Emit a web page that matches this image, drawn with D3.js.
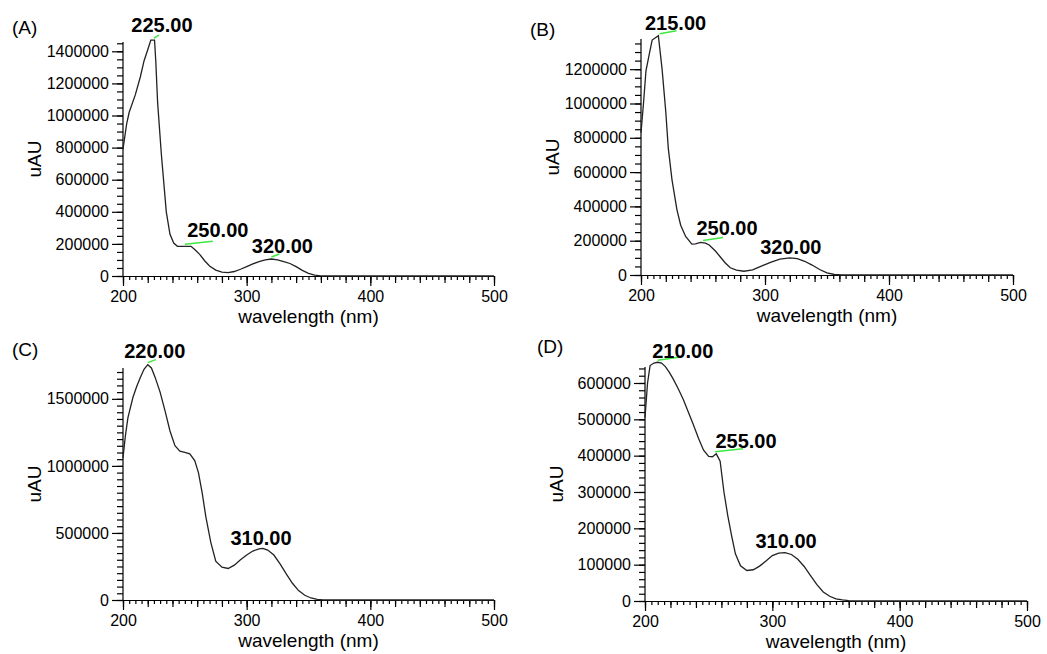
<!DOCTYPE html>
<html>
<head>
<meta charset="utf-8">
<script src="https://cdn.jsdelivr.net/npm/d3@7"></script>
<style>
  body { margin: 0; background: #fff; }
  svg { display: block; font-family: Arial, "Liberation Sans", sans-serif; }
</style>
</head>
<body>
<svg id="chart" width="1047" height="654"></svg>
<script>
// ---- spectra (wavelength nm / uAU) ----
const wlA  = [200, 203, 205, 210, 214, 217, 220, 222.5, 225.5, 226.5, 228, 231, 235, 238, 241, 244, 250, 255, 258, 262, 266, 270, 275, 280, 285, 290, 295, 300, 305, 310, 315, 320, 325, 330, 335, 340, 345, 350, 355, 360, 370, 500];
const uauA = [790000, 950000, 1020000, 1130000, 1240000, 1340000, 1410000, 1470000, 1470000, 1340000, 1080000, 760000, 400000, 260000, 205000, 185000, 185000, 185000, 165000, 135000, 95000, 62000, 37000, 24000, 21000, 28000, 42000, 58000, 75000, 90000, 100000, 106000, 100000, 90000, 78000, 58000, 35000, 16000, 5000, 1000, 0, 0];

const wlB  = [200, 202, 204, 207, 209, 214, 217, 220, 222, 225, 229, 232, 236, 241, 244, 248, 252, 255, 260, 264, 268, 272, 277, 283, 290, 298, 305, 312, 320, 326, 332, 338, 344, 350, 356, 362, 500];
const uauB = [830000, 1000000, 1190000, 1300000, 1370000, 1395000, 1200000, 950000, 740000, 555000, 380000, 290000, 225000, 180000, 182000, 190000, 186000, 175000, 140000, 105000, 70000, 42000, 28000, 22000, 30000, 55000, 75000, 92000, 100000, 95000, 80000, 58000, 32000, 12000, 3000, 0, 0];

const wlC  = [200, 202, 204, 208, 211, 214, 217, 220, 223, 226, 230, 234, 238, 242, 246, 250, 254, 258, 261, 264, 267, 271, 275, 280, 285, 290, 295, 300, 305, 310, 313, 317, 322, 327, 332, 337, 342, 347, 352, 357, 362, 500];
const uauC = [1060000, 1230000, 1360000, 1510000, 1590000, 1660000, 1720000, 1755000, 1730000, 1660000, 1550000, 1410000, 1260000, 1150000, 1110000, 1100000, 1090000, 1040000, 950000, 800000, 620000, 430000, 290000, 245000, 235000, 260000, 300000, 335000, 365000, 382000, 385000, 372000, 335000, 270000, 195000, 125000, 70000, 35000, 15000, 5000, 0, 0];

const wlD  = [200, 202, 204, 207, 210, 213, 216, 219, 222, 226, 230, 234, 238, 242, 246, 250, 253, 256, 259, 262, 265, 268, 271, 275, 280, 285, 290, 295, 300, 305, 310, 315, 320, 325, 330, 335, 340, 345, 350, 355, 360, 365, 500];
const uauD = [505000, 600000, 648000, 655000, 657000, 655000, 645000, 630000, 612000, 585000, 555000, 520000, 485000, 448000, 415000, 398000, 397000, 405000, 385000, 300000, 235000, 180000, 130000, 97000, 84000, 86000, 96000, 110000, 125000, 132000, 133000, 128000, 115000, 95000, 70000, 45000, 25000, 13000, 6000, 3000, 1000, 0, 0];

// peak annotations: wavelength and apex value
const peakWlA = [225, 250, 320], peakValA = [1470000, 185000, 106000];
const peakWlB = [215, 250, 320], peakValB = [1395000, 190000, 100000];
const peakWlC = [220, 310],      peakValC = [1755000, 385000];
const peakWlD = [210, 255, 310], peakValD = [657000, 405000, 133000];

const xTicks = [200, 300, 400, 500];

// ---- layout (pixel boxes, label offsets) ----
const panels = [
  { tag: "(A)", tagX: 12, tagY: 34, wl: wlA, v: uauA, pw: peakWlA, pv: peakValA,
    left: 123, right: 494, top: 42, bottom: 276, yMax: 1458000, major: 200000, minor: 50000,
    labelOff: [[8, -8], [33, -9], [11, -6]], greenLen: [5, 28, 8], titleX: 41 },
  { tag: "(B)", tagX: 530, tagY: 36, wl: wlB, v: uauB, pw: peakWlB, pv: peakValB,
    left: 641, right: 1013, top: 39, bottom: 275, yMax: 1376000, major: 200000, minor: 50000,
    labelOff: [[16, -6], [24, -7], [1, -4]], greenLen: [17, 20, 0], titleX: 559 },
  { tag: "(C)", tagX: 12, tagY: 356, wl: wlC, v: uauC, pw: peakWlC, pv: peakValC,
    left: 123, right: 494, top: 368, bottom: 600, yMax: 1730000, major: 500000, minor: 50000,
    labelOff: [[7, -7], [2, -3]], greenLen: [8, 0], titleX: 41 },
  { tag: "(D)", tagX: 537, tagY: 353, wl: wlD, v: uauD, pw: peakWlD, pv: peakValD,
    left: 645, right: 1027, top: 367, bottom: 601, yMax: 644000, major: 100000, minor: 20000,
    labelOff: [[25, -4], [31, -6], [1, -5]], greenLen: [21, 28, 0], titleX: 563 }
];

const svg = d3.select("#chart");

panels.forEach(p => {
  const x = d3.scaleLinear().domain([200, 500]).range([p.left, p.right]);
  const y = d3.scaleLinear().domain([0, p.yMax]).range([p.bottom, p.top]);
  const g = svg.append("g");

  // y axis: minor then major
  const minorY = d3.range(0, p.yMax + 1, p.minor);
  const majorY = d3.range(0, p.yMax + 1, p.major);
  g.append("g")
    .attr("transform", `translate(${p.left},0)`)
    .call(d3.axisLeft(y).tickValues(minorY).tickSize(6).tickFormat("").tickSizeOuter(0))
    .call(a => a.select(".domain").remove());
  const ya = g.append("g")
    .attr("transform", `translate(${p.left},0)`)
    .call(d3.axisLeft(y).tickValues(majorY).tickSize(11).tickPadding(3).tickFormat(d3.format("d")).tickSizeOuter(0));
  ya.select(".domain").attr("d", `M0,${p.bottom}V${p.top}`);
  ya.selectAll("text").style("font-size", "16px").attr("fill", "#000");

  // x axis: minor (5), medium (20), major (100)
  g.append("g")
    .attr("transform", `translate(0,${p.bottom})`)
    .call(d3.axisBottom(x).tickValues(d3.range(200, 501, 5)).tickSize(4).tickFormat("").tickSizeOuter(0))
    .call(a => a.select(".domain").remove());
  g.append("g")
    .attr("transform", `translate(0,${p.bottom})`)
    .call(d3.axisBottom(x).tickValues(d3.range(200, 501, 20)).tickSize(7).tickFormat("").tickSizeOuter(0))
    .call(a => a.select(".domain").remove());
  const xa = g.append("g")
    .attr("transform", `translate(0,${p.bottom})`)
    .call(d3.axisBottom(x).tickValues(xTicks).tickSize(10).tickPadding(5).tickFormat(d3.format("d")).tickSizeOuter(0));
  xa.selectAll("text").style("font-size", "16px").attr("fill", "#000");

  g.selectAll(".domain, .tick line").attr("stroke", "#000").attr("stroke-width", 1.2);

  // axis titles
  g.append("text")
    .attr("x", (p.left + p.right) / 2)
    .attr("y", p.bottom + 47)
    .attr("text-anchor", "middle")
    .style("font-size", "19px")
    .text("wavelength (nm)");
  g.append("text")
    .attr("transform", `translate(${p.titleX},${(p.top + p.bottom) / 2}) rotate(-90)`)
    .attr("text-anchor", "middle")
    .style("font-size", "19px")
    .text("uAU");

  // panel tag
  g.append("text")
    .attr("x", p.tagX).attr("y", p.tagY)
    .style("font-size", "19px")
    .text(p.tag);

  // spectrum
  const pts = p.wl.map((w, i) => [w, p.v[i]]);
  g.append("path")
    .datum(pts)
    .attr("fill", "none")
    .attr("stroke", "#222")
    .attr("stroke-width", 1.3)
    .attr("d", d3.line().x(d => x(d[0])).y(d => y(d[1])));

  // peak markers + labels
  p.pw.forEach((w, i) => {
    const px = x(w), py = y(p.pv[i]);
    if (p.greenLen[i] > 0) {
      g.append("line")
        .attr("x1", px).attr("y1", py - 2)
        .attr("x2", px + p.greenLen[i]).attr("y2", py - 5)
        .attr("stroke", "#3ee83e").attr("stroke-width", 1.5);
    }
    g.append("text")
      .attr("x", px + p.labelOff[i][0])
      .attr("y", py + p.labelOff[i][1])
      .attr("text-anchor", "middle")
      .style("font-size", "20px")
      .style("font-weight", "bold")
      .text(w.toFixed(2));
  });
});
</script>
</body>
</html>
